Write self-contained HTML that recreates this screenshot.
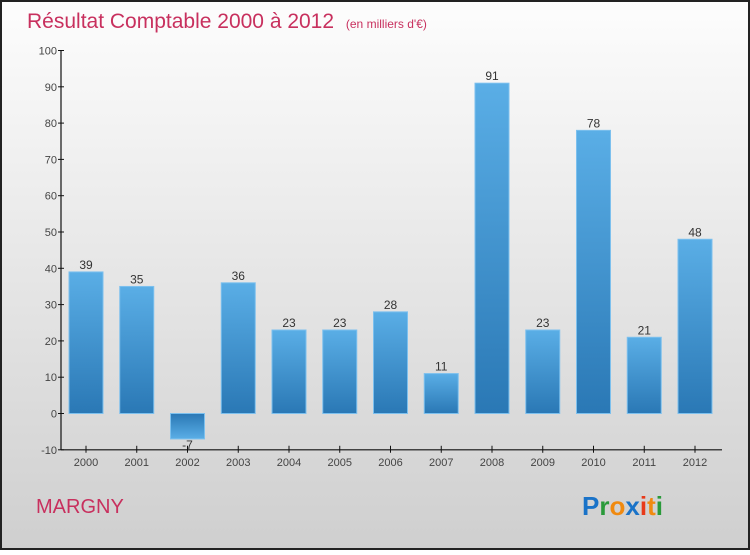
<!DOCTYPE html>
<html><head><meta charset="utf-8"><style>
body{margin:0}
#wrap{width:750px;height:550px;position:relative;font-family:"Liberation Sans",sans-serif}
</style></head><body>
<div id="wrap">
<svg id="chart" width="750" height="550" xmlns="http://www.w3.org/2000/svg">
<defs>
<linearGradient id="bg" x1="0" y1="0" x2="0" y2="1"><stop offset="0" stop-color="#fdfdfd"/><stop offset="1" stop-color="#cfcfcf"/></linearGradient>
<linearGradient id="barg" x1="0" y1="0" x2="0" y2="1"><stop offset="0" stop-color="#5aaee6"/><stop offset="1" stop-color="#2a78b5"/></linearGradient>
<linearGradient id="barn" x1="0" y1="0" x2="0" y2="1"><stop offset="0" stop-color="#2a78b5"/><stop offset="1" stop-color="#5aaee6"/></linearGradient>
</defs>
<rect x="1" y="1" width="748" height="548" fill="url(#bg)" stroke="#222" stroke-width="2"/>
<text x="27" y="28" font-size="21" fill="#c8305e">Résultat Comptable 2000 à 2012 <tspan font-size="12" dx="6">(en milliers d'€)</tspan></text>
<g id="yaxis"></g>
<g id="xaxis"></g>
<g id="bars"></g>
<text x="36" y="513" font-size="20" fill="#c8305e">MARGNY</text>
<text x="582" y="515" font-size="26" font-weight="bold"><tspan fill="#1a73c8">P</tspan><tspan fill="#2a9a3a">r</tspan><tspan fill="#f08a10">o</tspan><tspan fill="#1a73c8">x</tspan><tspan fill="#e83a1a">i</tspan><tspan fill="#f08a10">t</tspan><tspan fill="#2a9a3a">i</tspan></text>
</svg>
</div>
<script>
const categories=["2000","2001","2002","2003","2004","2005","2006","2007","2008","2009","2010","2011","2012"];
const values=[39,35,-7,36,23,23,28,11,91,23,78,21,48];
const yTicks=[-10,0,10,20,30,40,50,60,70,80,90,100];
const NS="http://www.w3.org/2000/svg";
const y0=413.5, pxPer=3.63;
function yScale(v){return y0-v*pxPer;}
function xScale(i){return 86+i*50.75;}
function mk(tag,attrs,parent){const e=document.createElementNS(NS,tag);for(const k in attrs)e.setAttribute(k,attrs[k]);parent.appendChild(e);return e;}
const ya=document.getElementById('yaxis'),xa=document.getElementById('xaxis'),bg=document.getElementById('bars');
mk('line',{x1:61,y1:yScale(100),x2:61,y2:yScale(-10),stroke:'#111','stroke-width':1.2},ya);
mk('line',{x1:61,y1:yScale(-10),x2:722,y2:yScale(-10),stroke:'#111','stroke-width':1.2},xa);
yTicks.forEach(t=>{
  const l=mk('line',{x1:58,y1:yScale(t),x2:64,y2:yScale(t),stroke:'#111'},ya);
  
  
  const tx=mk('text',{x:57,y:yScale(t)+4,'text-anchor':'end','font-size':11,fill:'#444'},ya);
  tx.textContent=t;
  
  
});
categories.forEach((c,i)=>{
  const x=xScale(i),v=values[i];
  const l=mk('line',{x1:x,y1:yScale(-10)-4,x2:x,y2:yScale(-10)+3,stroke:'#111'},xa);
  
  
  const tx=mk('text',{x:x,y:yScale(-10)+16,'text-anchor':'middle','font-size':11,fill:'#444'},xa);
  tx.textContent=c;
  
  
  const top=Math.min(yScale(v),yScale(0)),h=Math.abs(yScale(v)-yScale(0));
  const r=mk('rect',{x:x-17,y:top,width:34,height:h,fill:v>=0?'url(#barg)':'url(#barn)',stroke:'#7cc0ee','stroke-width':1},bg);
  
  
  const lb=mk('text',{x:x,y:v>=0?yScale(v)-3:yScale(v)+10,'text-anchor':'middle','font-size':12,fill:'#333'},bg);
  lb.textContent=v;
  
  
});
</script>
</body></html>
